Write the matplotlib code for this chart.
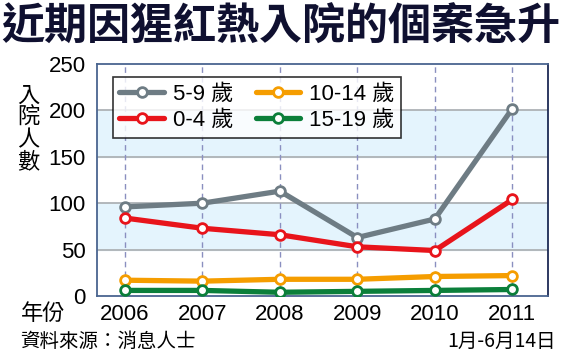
import matplotlib.pyplot as plt

years = [2006, 2007, 2008, 2009, 2010, 2011]
age_5_9 = [96, 100, 113, 63, 83, 202]
age_0_4 = [84, 73, 66, 53, 49, 104]
age_10_14 = [17, 16, 18, 18, 21, 22]
age_15_19 = [6, 6, 4, 5, 6, 7]
series_labels = ['5-9 歲', '0-4 歲', '10-14 歲', '15-19 歲']
series_colors = ['#6e7c84', '#e8141b', '#f59d00', '#0b7f3a']
y_ticks = [0, 50, 100, 150, 200, 250]

plt.rcParams['font.family'] = ['Liberation Sans', 'Noto Sans CJK TC']

fig = plt.figure(figsize=(5.61, 3.57), dpi=100)
ax = fig.add_axes([0.1729, 0.1709, 0.8039, 0.6498])

# light blue bands
for lo, hi in [(50, 100), (150, 200)]:
    ax.axhspan(lo, hi, color='#e4f4fd', zorder=0)
for y in y_ticks[1:-1]:
    ax.axhline(y, color='#a8acb0', lw=1.2, zorder=1)
for x in years:
    ax.axvline(x, color='#8a8fc0', lw=1, ls=(0, (4, 3)), zorder=1)

for vals, lab, col in zip([age_5_9, age_0_4, age_10_14, age_15_19], series_labels, series_colors):
    ax.plot(years, vals, color=col, lw=3.8, marker='o', markersize=7,
            markerfacecolor='white', markeredgecolor=col, markeredgewidth=2,
            label=lab, zorder=3, solid_capstyle='round')

ax.set_xlim(2005.64, 2011.46)
ax.set_ylim(0, 250)
ax.set_yticks(y_ticks)
ax.set_xticks(years)
ax.tick_params(length=0, labelsize=16, pad=6)
ax.tick_params(axis='y', pad=8)
for s in ax.spines.values():
    s.set_color('#4a6590')
    s.set_linewidth(1.3)
ax.spines['right'].set_color('#1c2a55')

leg = ax.legend(ncol=2, loc='upper left', bbox_to_anchor=(0.035, 0.944),
                fontsize=16, frameon=True, fancybox=False, edgecolor='black',
                handlelength=2.0, handletextpad=0.4, columnspacing=1.0,
                labelspacing=0.25, borderpad=0.3, borderaxespad=0)
leg.get_frame().set_linewidth(1.2)

fig.text(0.5, 0.925, '近期因猩紅熱入院的個案急升', ha='center', va='center',
         fontsize=31, fontweight='heavy', color='#0f1030', family='Noto Sans CJK TC')
fig.text(0.05, 0.64, '\n'.join('入院人數'), ha='center', va='center', fontsize=16,
         linespacing=0.95, family='Noto Sans CJK TC', fontweight='medium')
fig.text(0.038, 0.123, '年份', ha='left', va='center', fontsize=16,
         family='Noto Sans CJK TC', fontweight='medium')
fig.text(0.035, 0.045, '資料來源：消息人士', ha='left', va='center', fontsize=14,
         family='Noto Sans CJK TC', fontweight='light')
fig.text(0.99, 0.045, '1月-6月14日', ha='right', va='center', fontsize=14,
         family=['Liberation Sans Narrow', 'Noto Sans CJK TC'])

fig.savefig('out.png', dpi=100)
